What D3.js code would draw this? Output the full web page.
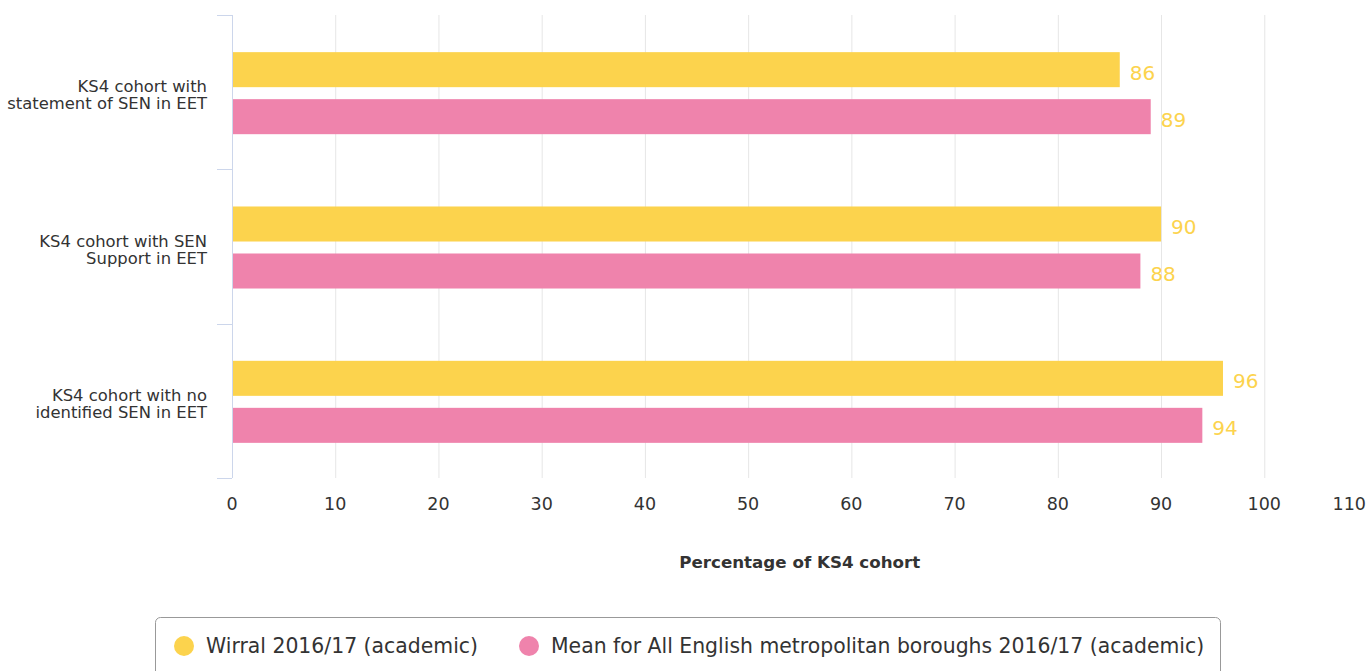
<!DOCTYPE html>
<html><head><meta charset="utf-8">
<script src="https://cdn.jsdelivr.net/npm/d3@7"></script>
<style>
body{margin:0;background:#fff;}
text{font-family:"DejaVu Sans",sans-serif;}
</style></head>
<body><svg id="c" width="1367" height="671"></svg>
<script>
const categories = [["KS4 cohort with","statement of SEN in EET"],["KS4 cohort with SEN","Support in EET"],["KS4 cohort with no","identified SEN in EET"]];
const seriesNames = ["Wirral 2016/17 (academic)","Mean for All English metropolitan boroughs 2016/17 (academic)"];
const wirral = [86, 90, 96];
const meanMet = [89, 88, 94];
const xTicks = [0,10,20,30,40,50,60,70,80,90,100,110];
const colors = ["#FCD34D","#EF83AC"];
const labelColor = "#FCD34D";

(function(){
const svg = d3.select("#c");
const pL = 232, pR = 1367.5, pT = 15, pB = 478;
const x = d3.scaleLinear().domain([0,110]).range([pL,pR]);
const y = d3.scaleBand().domain(d3.range(categories.length)).range([pT,pB]);
const inner = d3.scaleBand().domain([0,1]).range([1,y.bandwidth()+1]).paddingInner(0.255).paddingOuter(0.769);

svg.append("g").selectAll("line").data(xTicks.filter(d=>d>0 && d<110)).join("line")
  .attr("x1",d=>x(d)+0.5).attr("x2",d=>x(d)+0.5).attr("y1",pT).attr("y2",pB)
  .attr("stroke","#e6e6e6").attr("stroke-width",1);

svg.append("line").attr("x1",pL+0.5).attr("x2",pL+0.5).attr("y1",pT).attr("y2",pB).attr("stroke","#ccd6eb");
const bounds = d3.range(categories.length+1).map(i=> i<categories.length ? y(i) : pB);
svg.append("g").selectAll("line").data(bounds).join("line")
  .attr("x1",pL-15).attr("x2",pL).attr("y1",d=>Math.round(d)+0.5).attr("y2",d=>Math.round(d)+0.5)
  .attr("stroke","#ccd6eb");

const cl = svg.append("g").selectAll("text").data(categories).join("text")
  .attr("text-anchor","end").attr("fill","#333").attr("font-size","16.4px")
  .attr("x",207).attr("y",(d,i)=>y(i)+y.bandwidth()/2);
cl.selectAll("tspan").data(d=>d).join("tspan").attr("x",207).attr("dy",(d,i)=>i===0?0:17).text(d=>d);

const all = [wirral, meanMet];
all.forEach((vals,s)=>{
  svg.append("g").selectAll("rect").data(vals).join("rect")
    .attr("x",x(0)+1).attr("y",(d,i)=>y(i)+inner(s))
    .attr("width",d=>x(d)-x(0)-1).attr("height",inner.bandwidth())
    .attr("fill",colors[s]);
  svg.append("g").selectAll("text").data(vals).join("text")
    .attr("x",d=>x(d)+10).attr("y",(d,i)=>y(i)+inner(s)+inner.bandwidth()/2+3)
    .attr("dy","0.35em").attr("fill",labelColor).attr("font-size","20px")
    .text(d=>d);
});

svg.append("g").selectAll("text").data(xTicks).join("text")
  .attr("x",(d,i)=> i===xTicks.length-1 ? 1366 : x(d)).attr("y",510)
  .attr("text-anchor",(d,i)=> i===xTicks.length-1 ? "end" : "middle")
  .attr("fill","#333").attr("font-size","17.5px").text(d=>d);

svg.append("text").attr("x",(pL+pR)/2).attr("y",568).attr("text-anchor","middle")
  .attr("font-weight","bold").attr("fill","#333").attr("font-size","16.7px").text("Percentage of KS4 cohort");

const lg = svg.append("g");
lg.append("rect").attr("x",155.5).attr("y",617.5).attr("width",1065).attr("height",60).attr("rx",5)
  .attr("fill","#fff").attr("stroke","#999");
const lx = [184, 529];
seriesNames.forEach((n,i)=>{
  lg.append("circle").attr("cx",lx[i]).attr("cy",646).attr("r",10).attr("fill",colors[i]);
  lg.append("text").attr("x",lx[i]+22).attr("y",653).attr("fill","#333").attr("font-size","20.4px").text(n);
});
})();
</script></body></html>
